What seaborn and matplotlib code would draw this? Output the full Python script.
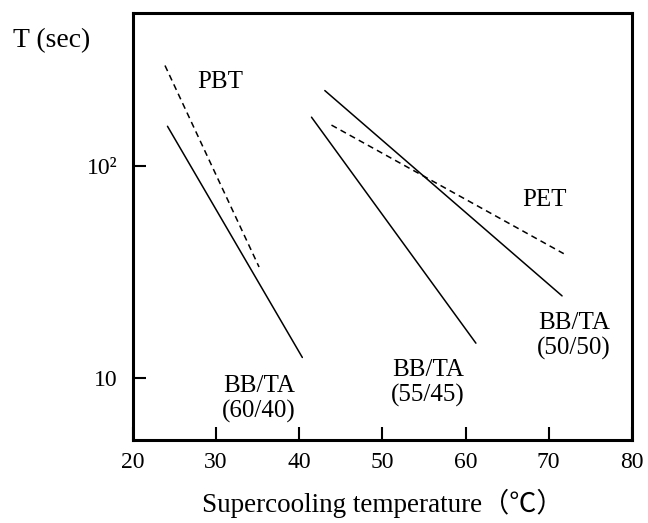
import pandas as pd
import matplotlib
matplotlib.use("Agg")
import matplotlib.pyplot as plt
import seaborn as sns

# Line end points (x = supercooling temp, y = T in sec)
pbt_x = [23.9, 35.2]
pbt_y = [298, 33.4]
bb6040_x = [24.2, 40.4]
bb6040_y = [154, 12.5]
bb5545_x = [41.5, 61.25]
bb5545_y = [170, 14.6]
bb5050_x = [43.1, 71.6]
bb5050_y = [227, 24.4]
pet_x = [43.9, 71.8]
pet_y = [156, 38.6]

x_ticks = [20, 30, 40, 50, 60, 70, 80]
y_ticks = [10, 100]
y_tick_labels = ["10", "10²"]

series = [
    ("PBT", pbt_x, pbt_y, "dashed"),
    ("BB/TA (60/40)", bb6040_x, bb6040_y, "solid"),
    ("BB/TA (55/45)", bb5545_x, bb5545_y, "solid"),
    ("BB/TA (50/50)", bb5050_x, bb5050_y, "solid"),
    ("PET", pet_x, pet_y, "dashed"),
]

sns.set_style("ticks")
plt.rcParams['font.family'] = ['Liberation Serif', 'Noto Sans CJK JP', 'DejaVu Sans']
plt.rcParams.update({"text.color": "black", "axes.labelcolor": "black",
                     "xtick.color": "black", "ytick.color": "black",
                     "axes.edgecolor": "black"})

fig = plt.figure(figsize=(6.48, 5.23), dpi=100)
ax = fig.add_axes([0.2045, 0.1587, 0.7708, 0.8164])

for name, xs, ys, style in series:
    df = pd.DataFrame({"x": xs, "y": ys})
    sns.lineplot(data=df, x="x", y="y", ax=ax, color="black", linewidth=1.1)
    if style == "dashed":
        ax.lines[-1].set_dashes((4, 2.8))

ax.set_yscale("log")
ax.set_xlim(20, 80)
ax.set_ylim(5.1, 527)
ax.set_xticks(x_ticks)
ax.set_xticklabels([str(t) for t in x_ticks])
ax.set_yticks(y_ticks)
ax.set_yticklabels(y_tick_labels)
ax.minorticks_off()
ax.tick_params(direction="in", length=9.5, width=1.5, labelsize=17)
ax.tick_params(axis="x", pad=9)
ax.tick_params(axis="y", pad=11)
for sp in ax.spines.values():
    sp.set_linewidth(2.2)

ax.set_xlabel("Supercooling temperature（℃）", fontsize=19.5, labelpad=11)
ax.set_ylabel("")
fig.text(0.079, 0.923, "T (sec)", fontsize=20, ha="center", va="center")

txt = dict(fontsize=18, ha="center", va="center", linespacing=1.15)
ax.text(30.5, 249, "PBT", **txt)
ax.text(69.45, 68.9, "PET", **txt)
ax.text(35.2, 7.93, "BB/TA\n(60/40)", **txt)
ax.text(55.5, 9.46, "BB/TA\n(55/45)", **txt)
ax.text(73.0, 15.8, "BB/TA\n(50/50)", **txt)

fig.savefig("out.png", dpi=100)
